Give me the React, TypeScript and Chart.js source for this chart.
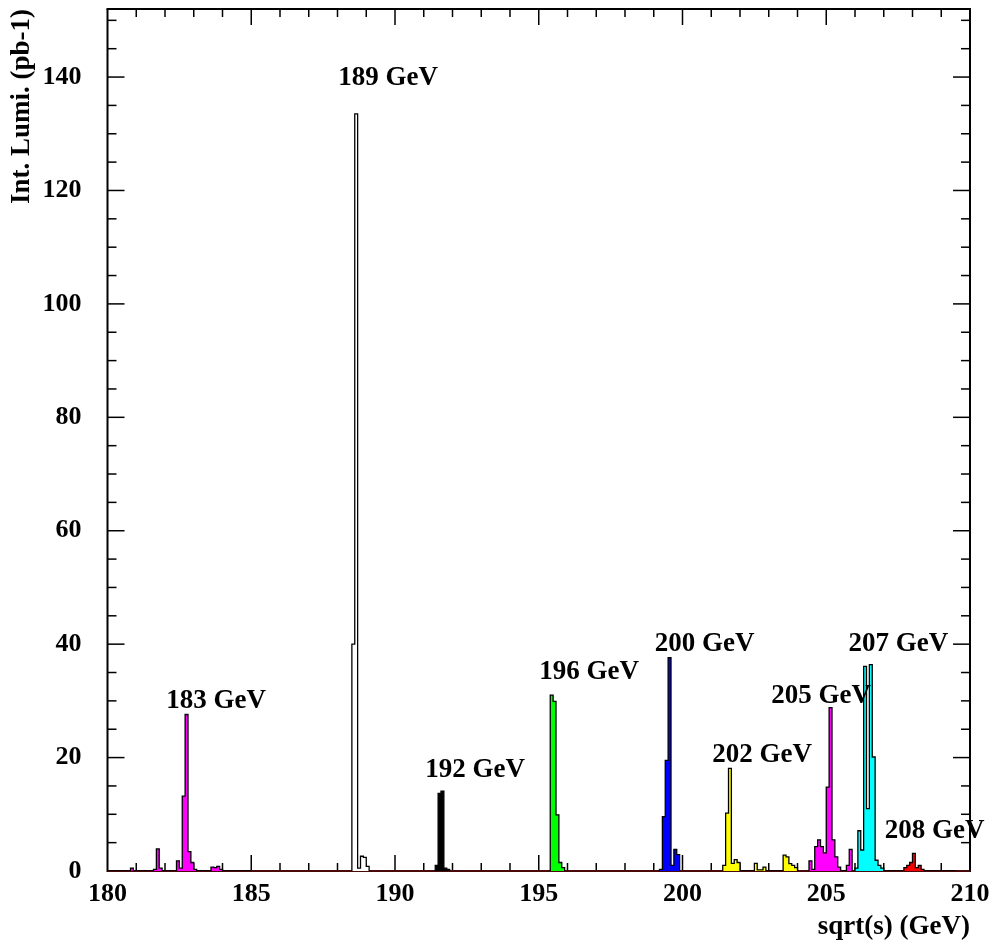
import { useEffect, useRef } from 'react';
import { Chart, registerables } from 'chart.js';

Chart.register(...registerables);

const FONT = "'Liberation Serif', 'Times New Roman', Times, serif";
const BIN_WIDTH = 0.1;

// Each histogram: first bin lower edge (GeV) and integrated luminosity per 0.1 GeV bin (pb-1)
const start183 = 180.0;
const lumi183 = [
  0, 0, 0, 0, 0, 0, 0, 0,
  0.5, 0, 0, 0, 0, 0, 0, 0,
  0.3, 3.9, 0.5, 0, 0, 0, 0, 0,
  1.8, 0.5, 13.2, 27.6, 3.4, 1.5, 0.3, 0, 0, 0, 0, 0,
  0.7, 0.6, 0.8, 0.3, 0, 0, 0, 0, 0, 0, 0, 0, 0, 0,
];
const start189 = 188.5;
const lumi189 = [40.0, 133.5, 0.5, 2.6, 2.4, 0.8];
const start192 = 191.4;
const lumi192 = [1.0, 13.7, 14.1, 0.5, 0.3];
const start196 = 195.4;
const lumi196 = [31.0, 29.9, 9.9, 1.5, 0.6];
const start200 = 199.2;
const lumi200 = [0.3, 9.6, 19.5, 37.6, 1.0, 3.8, 2.9];
const start202 = 201.4;
const lumi202 = [
  1.0, 10.2, 18.1, 1.35, 2.0, 1.5, 0, 0, 0, 0, 0,
  1.35, 0.2, 0.2, 0.7, 0, 0, 0, 0, 0, 0,
  2.8, 2.5, 1.3, 1.0, 0.6,
];
const start205 = 204.4;
const lumi205 = [1.8, 0.3, 4.3, 5.5, 4.3, 3.2, 14.8, 28.8, 5.5, 2.5, 0.7, 0, 0, 1.0, 3.8];
const start207 = 206.0;
const lumi207 = [0.5, 7.1, 3.7, 36.1, 11.0, 36.4, 20.1, 1.9, 1.0, 0.5];
const start208 = 207.0;
const lumi208 = [
  0, 0, 0, 0, 0, 0, 0,
  0.6, 1.0, 1.5, 3.1, 0.6, 1.0, 0.3,
  0, 0, 0, 0, 0, 0, 0, 0, 0, 0, 0,
];

// Energy point annotations (text, centre in data coordinates)
const labelTexts = ['183 GeV', '189 GeV', '192 GeV', '196 GeV', '200 GeV', '202 GeV', '205 GeV', '207 GeV', '208 GeV'];
const labelE = [183.78, 189.76, 192.79, 196.75, 200.77, 202.77, 204.82, 207.51, 208.77];
const labelL = [29.9, 139.8, 17.8, 35.0, 40.0, 20.5, 30.9, 40.0, 7.1];

const X_MIN = 180;
const X_MAX = 210;
const Y_MAX = 152;

function hist(start: number, values: number[]) {
  const pts: { x: number; y: number }[] = [{ x: start, y: 0 }];
  values.forEach((v, i) => pts.push({ x: start + i * BIN_WIDTH, y: v }));
  pts.push({ x: start + values.length * BIN_WIDTH, y: 0 });
  return pts;
}

const framePlugin = {
  id: 'rootFrame',
  beforeDatasetsDraw(chart: any) {
    const { ctx, chartArea: a, scales } = chart;
    const xs = scales.x;
    const ys = scales.y;
    ctx.save();
    ctx.strokeStyle = '#000';
    ctx.lineWidth = 1.5;
    const seg = (x1: number, y1: number, x2: number, y2: number) => {
      ctx.beginPath();
      ctx.moveTo(x1, y1);
      ctx.lineTo(x2, y2);
      ctx.stroke();
    };
    for (let v = X_MIN + 1; v < X_MAX; v += 1) {
      const px = xs.getPixelForValue(v);
      const len = v % 5 === 0 ? 16 : 8;
      seg(px, a.bottom, px, a.bottom - len);
      seg(px, a.top, px, a.top + len);
    }
    for (let v = 5; v <= 150; v += 5) {
      const py = ys.getPixelForValue(v);
      const len = v % 20 === 0 ? 17 : 9;
      seg(a.left, py, a.left + len, py);
      seg(a.right, py, a.right - len, py);
    }
    ctx.lineWidth = 2;
    ctx.strokeStyle = '#000';
    seg(a.left, a.bottom + 1, a.left, a.top);
    seg(a.left - 1, a.top, a.right + 1, a.top);
    seg(a.right, a.top, a.right, a.bottom + 1);
    ctx.strokeStyle = '#4a0a0a';
    seg(a.left, a.bottom, a.right, a.bottom);
    ctx.restore();
  },
  afterDatasetsDraw(chart: any) {
    const { ctx, scales } = chart;
    ctx.save();
    ctx.fillStyle = '#000';
    ctx.font = `bold 27px ${FONT}`;
    ctx.textAlign = 'center';
    ctx.textBaseline = 'middle';
    labelTexts.forEach((t, i) => {
      ctx.fillText(t, scales.x.getPixelForValue(labelE[i]), scales.y.getPixelForValue(labelL[i]));
    });
    ctx.restore();
  },
};

export default function App() {
  const ref = useRef<HTMLCanvasElement>(null);

  useEffect(() => {
    if (!ref.current) return;
    const mk = (data: { x: number; y: number }[], color: string) => ({
      data,
      borderColor: '#000',
      borderWidth: 1.3,
      backgroundColor: color,
      fill: 'origin',
      stepped: 'before' as const,
      pointRadius: 0,
      tension: 0,
    });
    const chart = new Chart(ref.current, {
      type: 'line',
      data: {
        datasets: [
          mk(hist(start183, lumi183), '#ff00ff'),
          mk(hist(start189, lumi189), '#ffffff'),
          mk(hist(start192, lumi192), '#000000'),
          mk(hist(start196, lumi196), '#00ff00'),
          mk(hist(start200, lumi200), '#0000ff'),
          mk(hist(start202, lumi202), '#ffff00'),
          mk(hist(start205, lumi205), '#ff00ff'),
          mk(hist(start207, lumi207), '#00ffff'),
          mk(hist(start208, lumi208), '#ff0000'),
        ] as any,
      },
      options: {
        responsive: false,
        animation: false,
        devicePixelRatio: 1,
        layout: { padding: { top: 9, right: 27, left: 0, bottom: 0 } },
        plugins: {
          legend: { display: false },
          tooltip: { enabled: false },
        },
        scales: {
          x: {
            type: 'linear',
            min: X_MIN,
            max: X_MAX,
            grid: { display: false, drawTicks: false },
            border: { display: false },
            ticks: {
              stepSize: 5,
              padding: 8,
              color: '#000',
              font: { family: FONT, size: 26, weight: 'bold' },
              maxRotation: 0,
              autoSkip: false,
              includeBounds: false,
            },
            title: {
              display: true,
              text: 'sqrt(s) (GeV)',
              align: 'end',
              color: '#000',
              font: { family: FONT, size: 27, weight: 'bold' },
              padding: { top: 0, bottom: 1 },
            },
            afterFit: (s: any) => {
              s.height = 73;
              s.paddingLeft = 0;
              s.paddingRight = 0;
            },
          },
          y: {
            type: 'linear',
            min: 0,
            max: Y_MAX,
            grid: { display: false, drawTicks: false },
            border: { display: false },
            ticks: {
              stepSize: 20,
              padding: 26,
              color: '#000',
              font: { family: FONT, size: 26, weight: 'bold' },
              includeBounds: false,
            },
            title: {
              display: true,
              text: 'Int. Lumi. (pb-1)',
              align: 'end',
              color: '#000',
              font: { family: FONT, size: 27, weight: 'bold' },
              padding: { top: 6, bottom: 0 },
            },
            afterFit: (s: any) => {
              s.width = 107.5;
              s.paddingTop = 0;
              s.paddingBottom = 0;
            },
          },
        },
      } as any,
      plugins: [framePlugin],
    });
    return () => chart.destroy();
  }, []);

  return (
    <div style={{ position: 'fixed', left: 0, top: 0, width: 997, height: 944, background: '#fff' }}>
      <canvas ref={ref} width={997} height={944} />
    </div>
  );
}
